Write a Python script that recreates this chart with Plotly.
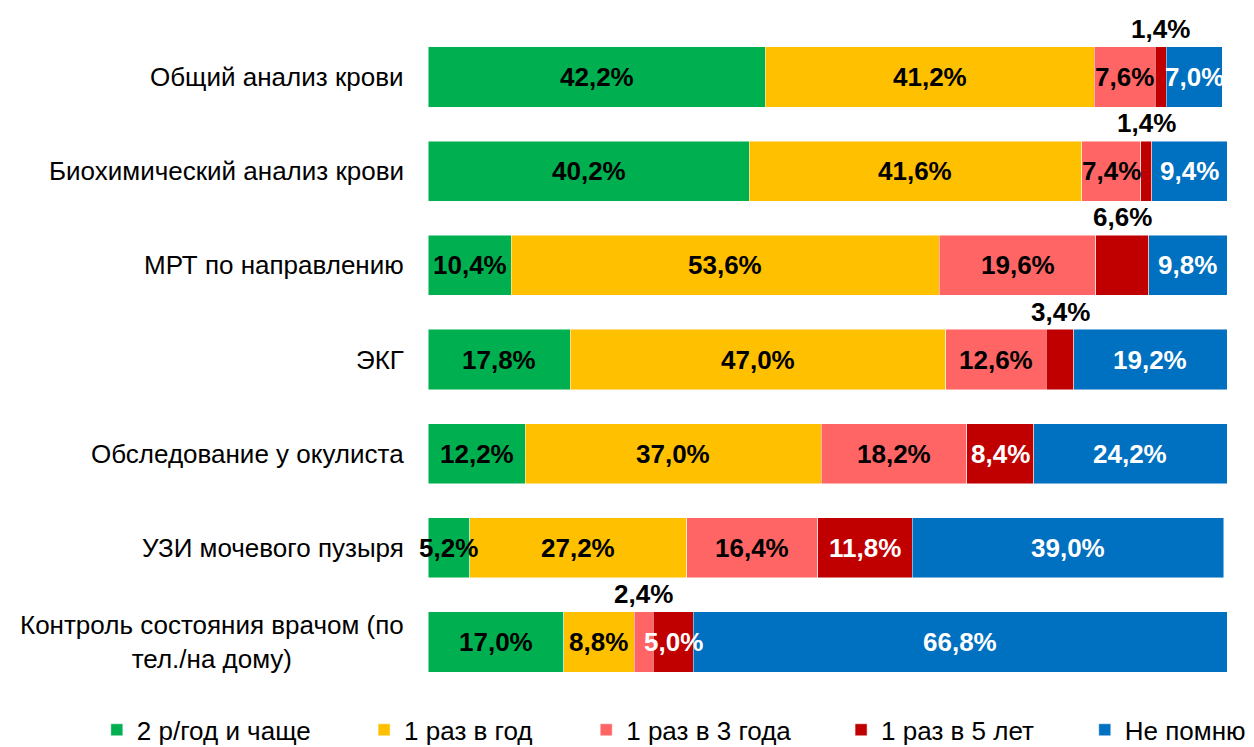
import plotly.graph_objects as go

# Survey categories (top to bottom)
categories = [
    "Общий анализ крови",
    "Биохимический анализ крови",
    "МРТ по направлению",
    "ЭКГ",
    "Обследование у окулиста",
    "УЗИ мочевого пузыря",
    "Контроль состояния врачом (по<br>тел./на дому)",
]

series_names = ["2 р/год и чаще", "1 раз в год", "1 раз в 3 года", "1 раз в 5 лет", "Не помню"]

twice_a_year = [42.2, 40.2, 10.4, 17.8, 12.2, 5.2, 17.0]
once_a_year = [41.2, 41.6, 53.6, 47.0, 37.0, 27.2, 8.8]
every_3_years = [7.6, 7.4, 19.6, 12.6, 18.2, 16.4, 2.4]
every_5_years = [1.4, 1.4, 6.6, 3.4, 8.4, 11.8, 5.0]
dont_remember = [7.0, 9.4, 9.8, 19.2, 24.2, 39.0, 66.8]

series_values = [twice_a_year, once_a_year, every_3_years, every_5_years, dont_remember]

colors = ["#00B050", "#FFC000", "#FF6565", "#C00000", "#0070C0"]
label_colors = ["black", "black", "black", "white", "white"]

# labels drawn above the bar instead of inside the segment: (series index, category index)
labels_above = {(3, 0), (3, 1), (3, 2), (3, 3), (2, 6)}

FONT = "Arial, Liberation Sans, sans-serif"

# paper positions of the legend entries (one legend per series)
legend_x = [-0.4145, -0.080, 0.198, 0.517, 0.822]

fig = go.Figure()
for i, (name, vals) in enumerate(zip(series_names, series_values)):
    lg = "legend" if i == 0 else f"legend{i + 1}"
    fig.add_trace(go.Bar(
        name=name,
        y=categories,
        x=vals,
        orientation="h",
        marker=dict(color=colors[i], line=dict(color="rgba(255,255,255,0.6)", width=0.8)),
        legend=lg,
        hoverinfo="skip",
    ))

annotations = []
starts = [0.0] * len(categories)
for i, vals in enumerate(series_values):
    for j, v in enumerate(vals):
        center = starts[j] + v / 2
        starts[j] += v
        txt = f"{v:.1f}%".replace(".", ",")
        above = (i, j) in labels_above
        annotations.append(dict(
            x=center, y=categories[j], xref="x", yref="y",
            text=f"<b>{txt}</b>", showarrow=False,
            yshift=48 if above else 0,
            font=dict(family=FONT, size=26, color="black" if above else label_colors[i]),
        ))

for c in categories:
    annotations.append(dict(
        x=0, y=c, xref="paper", yref="y", xanchor="right", xshift=-22,
        text=c, showarrow=False, align="center",
        font=dict(family=FONT, size=26, color="black"),
    ))

layout_legends = {}
for i in range(len(series_names)):
    key = "legend" if i == 0 else f"legend{i + 1}"
    layout_legends[key] = dict(
        orientation="h", x=legend_x[i], xanchor="left", y=-0.062, yanchor="middle",
        font=dict(family=FONT, size=26, color="black"), bgcolor="rgba(0,0,0,0)",
        borderwidth=0, itemclick=False, itemdoubleclick=False,
    )

n = len(categories)
fig.update_layout(
    width=1254, height=747,
    barmode="stack",
    bargap=0.36,
    plot_bgcolor="white", paper_bgcolor="white",
    margin=dict(l=428, r=27, t=30, b=58, autoexpand=False),
    xaxis=dict(range=[0, 100], visible=False, fixedrange=True),
    yaxis=dict(categoryorder="array", categoryarray=categories, range=[n - 0.5, -0.5],
               autorange=False, showticklabels=False, showgrid=False, zeroline=False,
               fixedrange=True),
    annotations=annotations,
    showlegend=True,
    **layout_legends,
)

fig.write_html("out.html")
